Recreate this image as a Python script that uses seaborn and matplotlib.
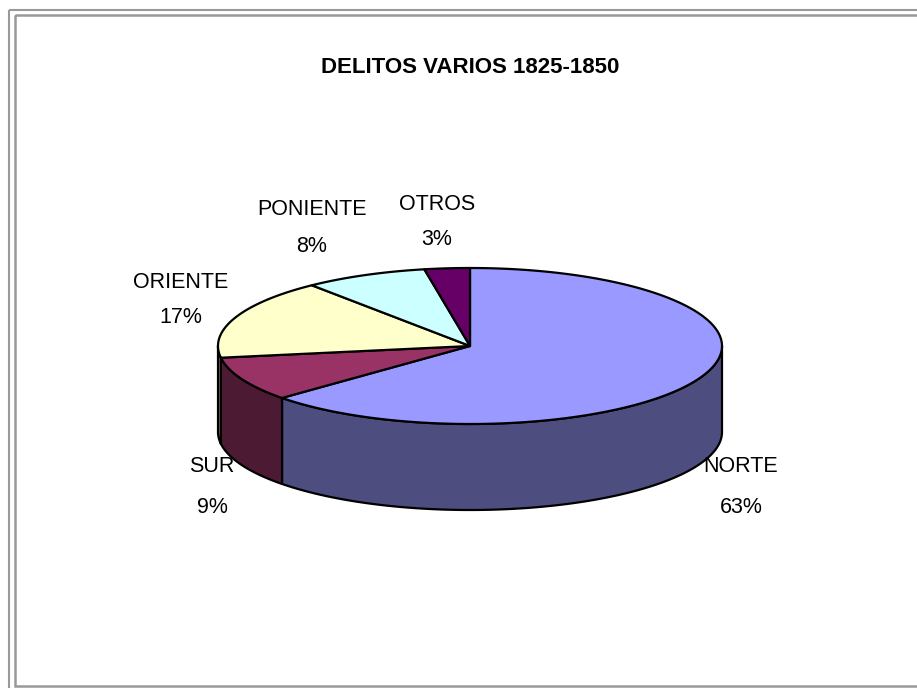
import numpy as np
import matplotlib
matplotlib.use("Agg")
import matplotlib.pyplot as plt
import seaborn as sns
from matplotlib.patches import Polygon, Rectangle

# data
regions = ["NORTE", "SUR", "ORIENTE", "PONIENTE", "OTROS"]
shares = [63.4, 9.2, 16.6, 7.9, 2.9]
top_colors = ["#9999FF", "#993366", "#FFFFCC", "#CCFFFF", "#660066"]
side_colors = ["#4D4D80", "#4D1A33", "#808066", "#668080", "#330033"]

# label anchors (centre x, baseline y of the name) in pixel space
label_pos = [(741, 472), (212, 472), (181, 288), (312, 215), (437, 210)]
pct_gap = [41, 41, 35, 37, 35]

sns.set_theme(style="white")
plt.rcParams["font.family"] = ["Liberation Sans Narrow", "Liberation Sans", "DejaVu Sans"]

fig = plt.figure(figsize=(9.17, 6.88), dpi=100)
ax = fig.add_axes([0, 0, 1, 1])
ax.set_xlim(0, 917)
ax.set_ylim(688, 0)
ax.axis("off")

# chart frame (double grey line)
ax.add_patch(Rectangle((9, 10), 930, 700, fill=False, ec="#999999", lw=1.5, zorder=0))
ax.add_patch(Rectangle((15, 15), 930, 671, fill=False, ec="#999999", lw=1.8, zorder=0))

# pie geometry
cx, cy, rx, ry, depth = 470, 346, 252, 78, 86

vals = np.array(shares, dtype=float)
fracs = vals / vals.sum()
starts = 90 - 360 * np.concatenate([[0], np.cumsum(fracs)[:-1]])
ends = starts - 360 * fracs


def arc(t0, t1, n=200):
    t = np.radians(np.linspace(t0, t1, n))
    return cx + rx * np.cos(t), cy - ry * np.sin(t)


# side walls (front half only: angles between -180 and 0)
for s, e, col in zip(starts, ends, side_colors):
    a = min(s, 0)
    b = max(e, -180)
    if a <= b:
        continue
    xs, ys = arc(a, b)
    pts = np.column_stack([np.concatenate([xs, xs[::-1]]),
                           np.concatenate([ys, ys[::-1] + depth])])
    ax.add_patch(Polygon(pts, closed=True, fc=col, ec="black", lw=1.6,
                         joinstyle="round", zorder=1))

# top face wedges
for s, e, col in zip(starts, ends, top_colors):
    xs, ys = arc(s, e)
    pts = np.column_stack([np.concatenate([[cx], xs]), np.concatenate([[cy], ys])])
    ax.add_patch(Polygon(pts, closed=True, fc=col, ec="black", lw=1.6,
                         joinstyle="round", zorder=2))

# labels
for name, v, (lx, ly), gap in zip(regions, fracs, label_pos, pct_gap):
    ax.text(lx, ly, name, ha="center", va="baseline", fontsize=15.5, color="black")
    ax.text(lx, ly + gap, f"{round(v * 100):d}%", ha="center", va="baseline",
            fontsize=15.5, color="black")

ax.text(470, 73, "DELITOS VARIOS 1825-1850", ha="center", va="baseline",
        fontsize=16, fontweight="bold", color="black")

fig.savefig("out.png", dpi=100)
